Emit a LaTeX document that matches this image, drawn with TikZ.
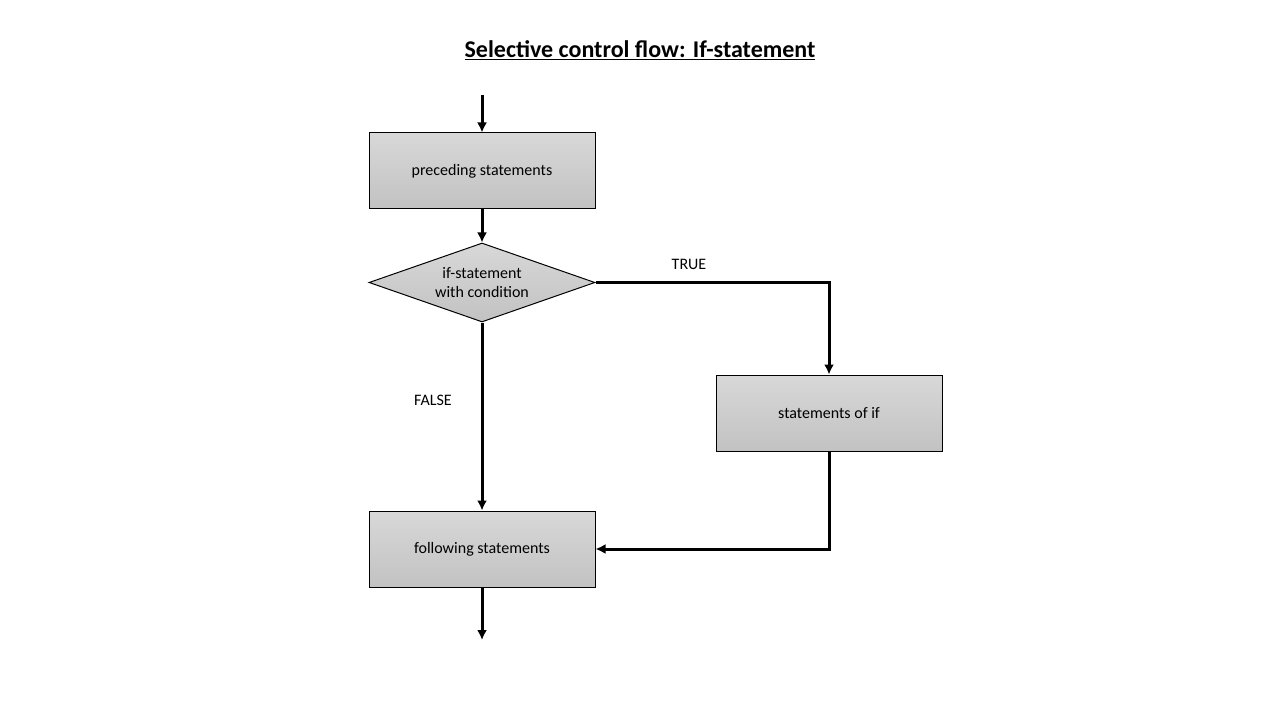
\documentclass[tikz,border=0pt]{standalone}
\usepackage{fontspec}
\setmainfont{Carlito}
\usetikzlibrary{shapes.geometric,arrows.meta}
\definecolor{boxtop}{RGB}{216,216,216}
\definecolor{boxbottom}{RGB}{194,194,194}

\begin{document}
\begin{tikzpicture}[x=0.75pt,y=-0.75pt,
    font=\fontsize{12}{14.5}\selectfont,
    stmt/.style={draw,line width=0.75pt,rectangle,top color=boxtop,bottom color=boxbottom,
        minimum width=169.5pt,minimum height=57pt,inner sep=0pt},
    decision/.style={draw,line width=0.75pt,diamond,aspect=2.86,top color=boxtop,bottom color=boxbottom,
        minimum width=169.5pt,minimum height=59.25pt,inner sep=0pt,align=center},
    flow/.style={line width=2.25pt,-{Latex[length=7.5pt,width=7.5pt]}},
    label/.style={inner sep=0pt}]
        \useasboundingbox (0,0) rectangle (1280,720);
        \node[font=\fontsize{18}{21}\selectfont\bfseries] (title) at (640,50) {\underline{Selective control flow: If-statement}};
        \coordinate (start) at (482,95);
        \node[stmt] (pre) at (482,171) {preceding statements};
        \node[decision] (cond) at (482,282.5) {if-statement\\with condition};
        \node[stmt] (ifbody) at (829,413) {statements of if};
        \node[stmt] (post) at (482,549) {following statements};
        \coordinate (stop) at (482,640);
        \node[label] (true) at (689,264) {TRUE};
        \node[label] (false) at (433,400) {FALSE};
        \draw[flow] (start) -- (pre);
        \draw[flow] (pre) -- (cond);
        \draw[flow] (cond.east) -| (ifbody.north);
        \draw[flow] (cond.south) -- (post.north);
        \draw[flow] (ifbody.south) |- (post.east);
        \draw[flow] (post) -- (stop);
\end{tikzpicture}
\end{document}
